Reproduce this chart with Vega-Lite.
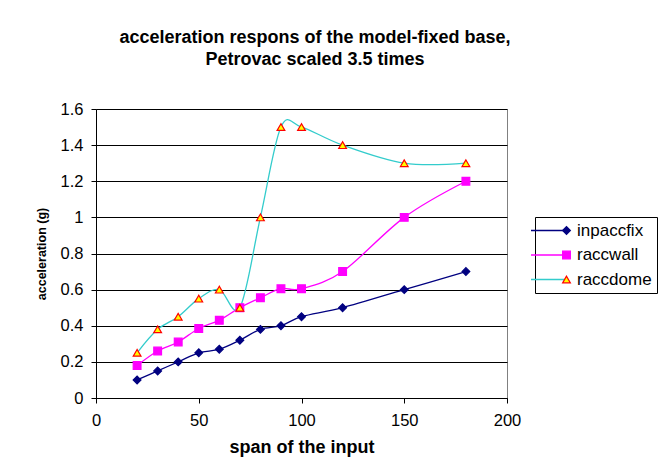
{
  "$schema": "https://vega.github.io/schema/vega-lite/v6.json",
  "autosize": "none",
  "width": 411,
  "height": 289,
  "padding": {"left": 96, "top": 109, "right": 156, "bottom": 70},
  "background": "white",
  "config": {
    "font": "Liberation Sans",
    "view": {"stroke": "#808080", "strokeWidth": 1},
    "axis": {"labelFont": "Liberation Sans", "labelFontSize": 16.5, "labelColor": "black", "titleFont": "Liberation Sans", "titleColor": "black", "titleFontWeight": "bold", "domainColor": "black", "tickColor": "black", "gridColor": "black", "gridOpacity": 1, "tickSize": 5}
  },
  "title": {
    "text": ["acceleration respons of the model-fixed base,", "Petrovac scaled 3.5 times"],
    "font": "Liberation Sans",
    "fontSize": 18,
    "fontWeight": "bold",
    "color": "black",
    "anchor": "middle",
    "frame": "group",
    "dx": 13.5,
    "lineHeight": 22,
    "offset": 32
  },
  "data": {
    "values": [
      {"span": 20, "series": "inpaccfix", "acc": 0.10},
      {"span": 30, "series": "inpaccfix", "acc": 0.15},
      {"span": 40, "series": "inpaccfix", "acc": 0.20},
      {"span": 50, "series": "inpaccfix", "acc": 0.25},
      {"span": 60, "series": "inpaccfix", "acc": 0.27},
      {"span": 70, "series": "inpaccfix", "acc": 0.32},
      {"span": 80, "series": "inpaccfix", "acc": 0.38},
      {"span": 90, "series": "inpaccfix", "acc": 0.40},
      {"span": 100, "series": "inpaccfix", "acc": 0.45},
      {"span": 120, "series": "inpaccfix", "acc": 0.50},
      {"span": 150, "series": "inpaccfix", "acc": 0.60},
      {"span": 180, "series": "inpaccfix", "acc": 0.70},
      {"span": 20, "series": "raccwall", "acc": 0.18},
      {"span": 30, "series": "raccwall", "acc": 0.26},
      {"span": 40, "series": "raccwall", "acc": 0.31},
      {"span": 50, "series": "raccwall", "acc": 0.385},
      {"span": 60, "series": "raccwall", "acc": 0.43},
      {"span": 70, "series": "raccwall", "acc": 0.50},
      {"span": 80, "series": "raccwall", "acc": 0.555},
      {"span": 90, "series": "raccwall", "acc": 0.605},
      {"span": 100, "series": "raccwall", "acc": 0.605},
      {"span": 120, "series": "raccwall", "acc": 0.70},
      {"span": 150, "series": "raccwall", "acc": 1.00},
      {"span": 180, "series": "raccwall", "acc": 1.20},
      {"span": 20, "series": "raccdome", "acc": 0.25},
      {"span": 30, "series": "raccdome", "acc": 0.38},
      {"span": 40, "series": "raccdome", "acc": 0.45},
      {"span": 50, "series": "raccdome", "acc": 0.55},
      {"span": 60, "series": "raccdome", "acc": 0.60},
      {"span": 70, "series": "raccdome", "acc": 0.50},
      {"span": 80, "series": "raccdome", "acc": 1.00},
      {"span": 90, "series": "raccdome", "acc": 1.50},
      {"span": 100, "series": "raccdome", "acc": 1.50},
      {"span": 120, "series": "raccdome", "acc": 1.40},
      {"span": 150, "series": "raccdome", "acc": 1.30},
      {"span": 180, "series": "raccdome", "acc": 1.30}
    ]
  },
  "encoding": {
    "x": {
      "field": "span", "type": "quantitative",
      "scale": {"domain": [0, 200], "nice": false, "zero": false},
      "axis": {"title": "span of the input", "titleFontSize": 18, "values": [0, 50, 100, 150, 200], "grid": false, "labelPadding": 9, "titlePadding": 10, "labelFlush": false}
    },
    "y": {
      "field": "acc", "type": "quantitative",
      "scale": {"domain": [0, 1.6], "nice": false},
      "axis": {"title": "acceleration (g)", "titleFontSize": 12.5, "values": [0, 0.2, 0.4, 0.6, 0.8, 1, 1.2, 1.4, 1.6], "format": "~g", "grid": true, "labelPadding": 8, "titlePadding": 12, "labelFlush": false}
    }
  },
  "resolve": {"legend": {"color": "independent", "shape": "independent", "fill": "independent", "stroke": "independent", "size": "independent"}},
  "layer": [
    {
      "mark": {"type": "line", "interpolate": "cardinal", "tension": 0, "strokeWidth": 1.3, "clip": false},
      "encoding": {
        "color": {
          "field": "series", "type": "nominal",
          "scale": {"domain": ["inpaccfix", "raccwall", "raccdome"], "range": ["#000080", "#FF00FF", "#33CCCC"]},
          "legend": {"title": null, "orient": "none", "legendX": 439, "legendY": 108, "symbolType": "M-5,0H5", "symbolSize": 49, "symbolStrokeWidth": 1.3, "strokeColor": "black", "padding": 5, "labelFont": "Liberation Sans", "labelFontSize": 17, "labelColor": "black", "labelOffset": 20, "rowPadding": 6.5}
        }
      }
    },
    {
      "mark": {"type": "point", "filled": true, "strokeWidth": 1.2, "opacity": 1},
      "encoding": {
        "shape": {
          "field": "series", "type": "nominal",
          "scale": {"domain": ["inpaccfix", "raccwall", "raccdome"], "range": ["diamond", "square", "triangle-up"]},
          "legend": {"title": null, "orient": "none", "legendX": 457, "legendY": 108, "padding": 5, "labelOpacity": 0, "labelFontSize": 17, "labelOffset": 20, "rowPadding": 6.5, "symbolStrokeWidth": 1.2}
        },
        "size": {
          "field": "series", "type": "nominal",
          "scale": {"domain": ["inpaccfix", "raccwall", "raccdome"], "range": [60, 60, 85]},
          "legend": {"title": null}
        },
        "fill": {
          "field": "series", "type": "nominal",
          "scale": {"domain": ["inpaccfix", "raccwall", "raccdome"], "range": ["#000080", "#FF00FF", "#FFFF00"]},
          "legend": {"title": null}
        },
        "stroke": {
          "field": "series", "type": "nominal",
          "scale": {"domain": ["inpaccfix", "raccwall", "raccdome"], "range": ["#000080", "#FF00FF", "#FF0000"]},
          "legend": {"title": null}
        }
      }
    }
  ]
}
